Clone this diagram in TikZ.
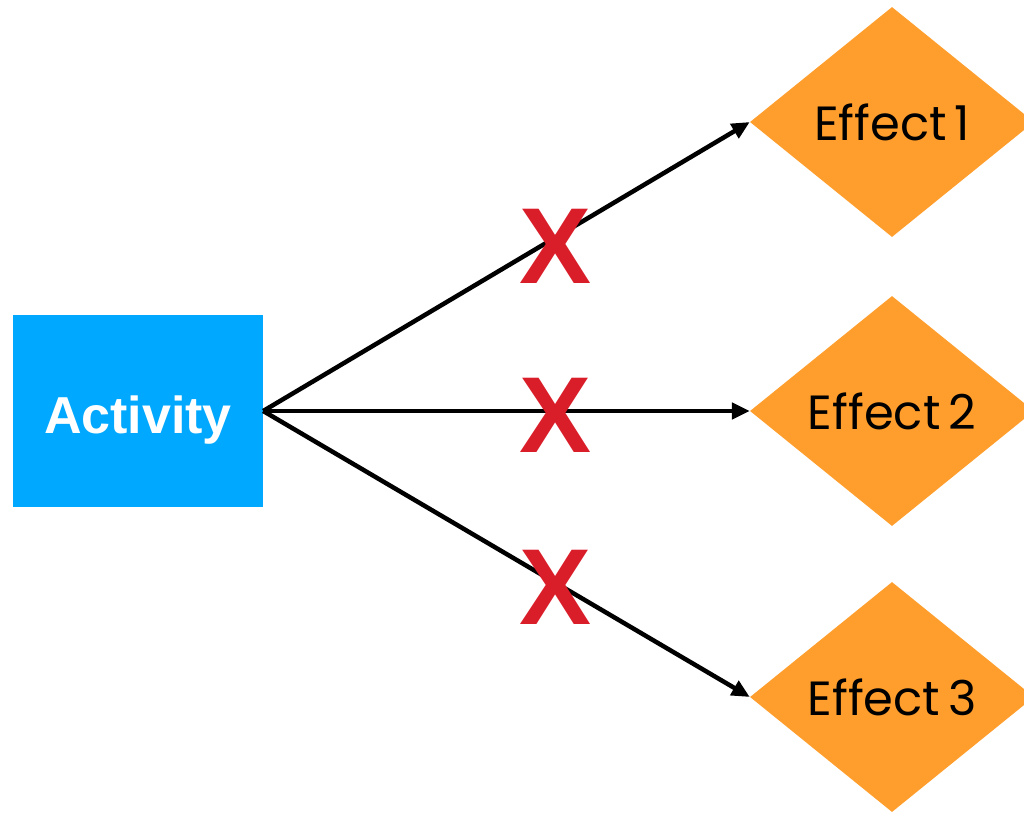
\documentclass[tikz,border=0pt]{standalone}
\usepackage{fontspec}
\setmainfont{Liberation Sans}
\newfontfamily\effectfont{Poppins}
\usetikzlibrary{shapes.geometric,arrows.meta}
\definecolor{actblue}{HTML}{00A8FF}
\definecolor{effor}{HTML}{FF9E2C}
\definecolor{xred}{HTML}{D91E2A}
\tikzset{
  actbox/.style={fill=actblue,draw=none,minimum width=250pt,minimum height=192pt,inner sep=0pt,
    text height=44pt,text depth=0pt,
    text=white,font=\bfseries\fontsize{52}{60}\selectfont},
  effbox/.style={diamond,fill=effor,draw=none,minimum width=284pt,minimum height=230pt,inner sep=0pt,
    text=black,font=\effectfont\fontsize{48}{56}\selectfont},
  conn/.style={line width=4.5pt,-{Triangle[length=18pt,width=16pt]}},
  xmark/.style={text=xred,font=\bfseries\fontsize{108}{120}\selectfont,inner sep=0pt}
}
\begin{document}
\begin{tikzpicture}[x=1pt,y=-1pt]
\useasboundingbox (0,0) rectangle (1024,812);
\node[actbox] (act) at (138,411) {Activity};
\node[effbox] (e1) at (892,122) {Effect\,1};
\node[effbox] (e2) at (892,411) {Effect\,2};
\node[effbox] (e3) at (892,697) {Effect\,3};
\draw[conn] (act.east) -- (e1.west);
\draw[conn] (act.east) -- (e2.west);
\draw[conn] (act.east) -- (e3.west);
\node[xmark] (x1) at (556,246) {X};
\node[xmark] (x2) at (556,415) {X};
\node[xmark] (x3) at (556,587) {X};
\end{tikzpicture}
\end{document}
